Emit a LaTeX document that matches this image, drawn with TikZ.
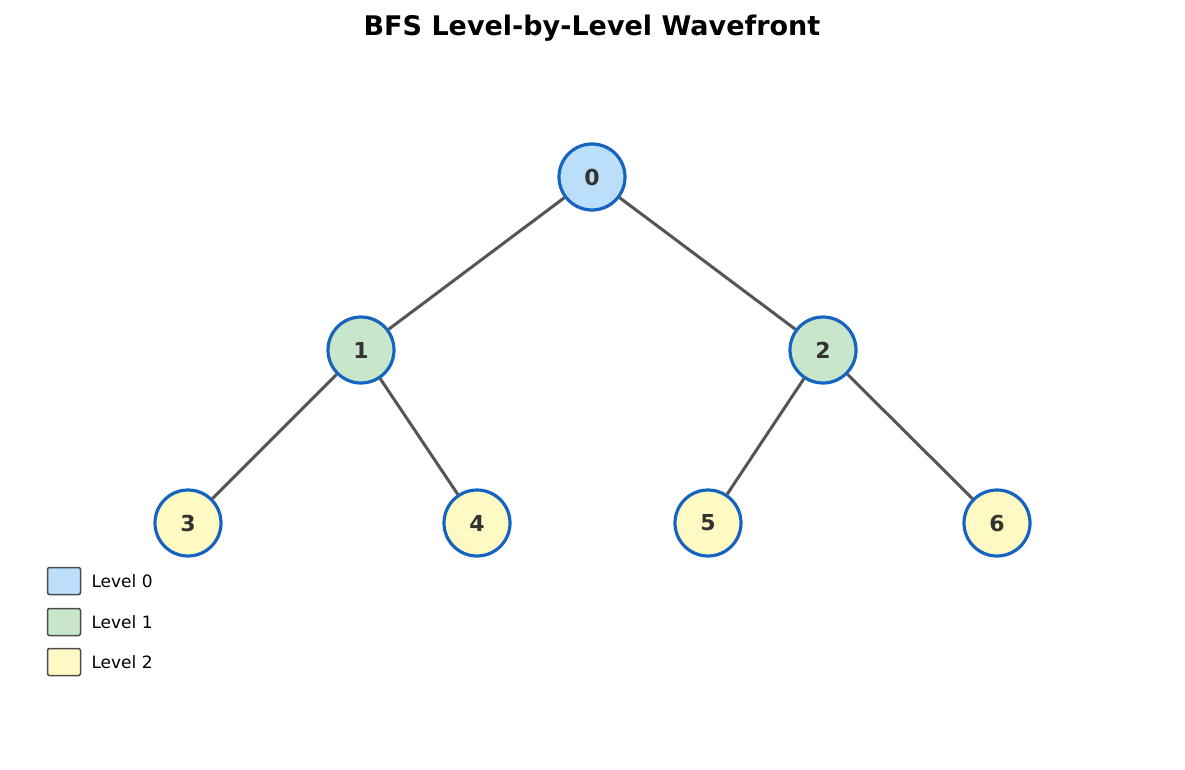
\documentclass[tikz,border=0pt]{standalone}
\usepackage{fontspec}
\setmainfont{DejaVu Sans}
\definecolor{lvlzero}{HTML}{BBDEFB}
\definecolor{lvlone}{HTML}{C8E6C9}
\definecolor{lvltwo}{HTML}{FFF9C4}
\definecolor{nodeborder}{HTML}{1565C0}
\definecolor{edgegray}{HTML}{555555}
\definecolor{txtgray}{HTML}{333333}
\tikzset{
  vertex/.style={shape=circle,draw=nodeborder,line width=3.2pt,minimum size=66pt,inner sep=0pt,
    font=\fontsize{22}{24}\selectfont\bfseries,text=txtgray},
  tree/.style={draw=edgegray,line width=3pt},
  legbox/.style={draw=black!70,line width=1.5pt,rounded corners=2pt,minimum width=33pt,minimum height=27pt,inner sep=0pt},
  legtext/.style={right,font=\fontsize{17}{19}\selectfont}
}
\begin{document}
\begin{tikzpicture}[x=1pt,y=-1pt]
                \useasboundingbox (0,0) rectangle (1185,770);
                \node[font=\fontsize{27}{30}\selectfont\bfseries] (title) at (592,28) {BFS Level-by-Level Wavefront};

                \node[vertex, fill=lvlzero] (0) at (592,177) {0};
                \node[vertex, fill=lvlone] (1) at (361,350) {1};
                \node[vertex, fill=lvlone] (2) at (823,350) {2};
                \node[vertex, fill=lvltwo] (3) at (188,523) {3};
                \node[vertex, fill=lvltwo] (4) at (477,523) {4};
                \node[vertex, fill=lvltwo] (5) at (708,523) {5};
                \node[vertex, fill=lvltwo] (6) at (997,523) {6};

                \draw[tree] (0) -- (1);
                \draw[tree] (0) -- (2);
                \draw[tree] (1) -- (3);
                \draw[tree] (1) -- (4);
                \draw[tree] (2) -- (5);
                \draw[tree] (2) -- (6);

                \node[legbox, fill=lvlzero] (l0) at (64,581) {};
                \node[legbox, fill=lvlone] (l1) at (64,622) {};
                \node[legbox, fill=lvltwo] (l2) at (64,662) {};
                \node[legtext] (t0) at (88,581) {Level 0};
                \node[legtext] (t1) at (88,622) {Level 1};
                \node[legtext] (t2) at (88,662) {Level 2};

            \end{tikzpicture}
\end{document}
